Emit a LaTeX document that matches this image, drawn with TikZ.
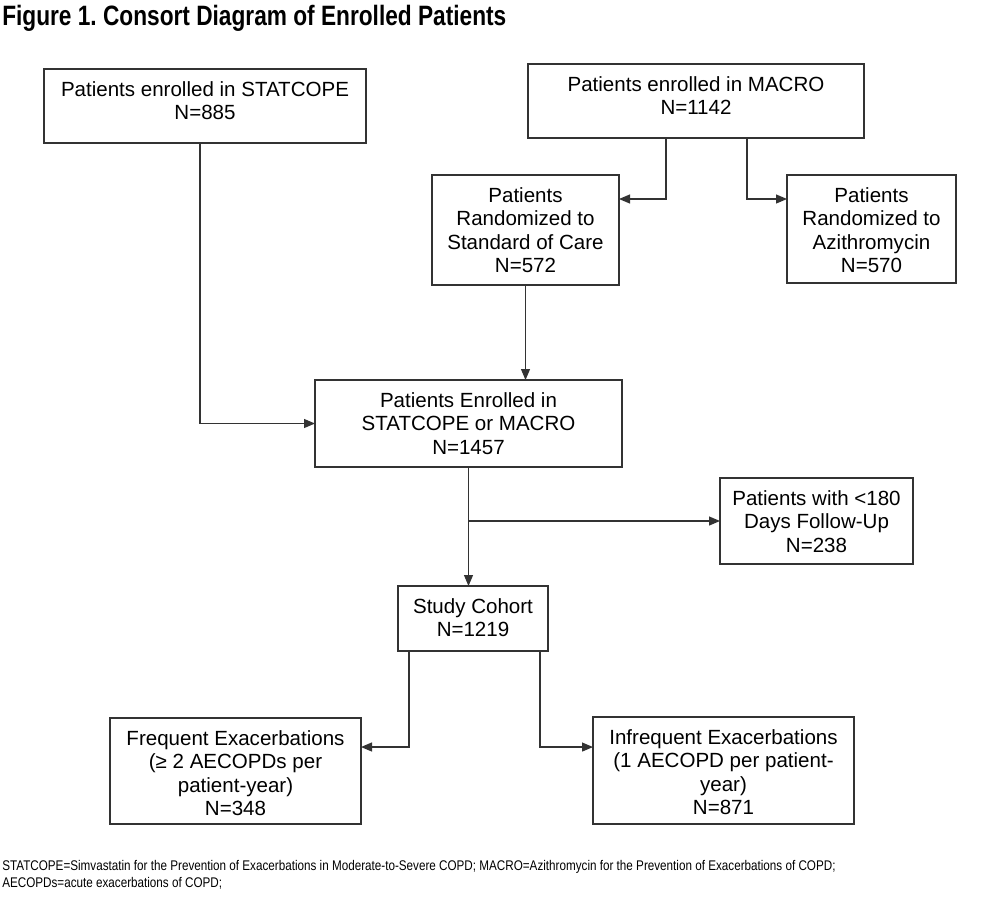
\documentclass[tikz,border=0pt]{standalone}
\usepackage{fontspec}
\setmainfont{Liberation Sans}
\usepackage{graphicx}
\usetikzlibrary{arrows.meta}
\definecolor{linecol}{HTML}{333333}
\newcommand\bt[3]{\parbox[c][#2][t]{#1}{\centering\fontsize{15.4}{17.6}\selectfont\rule{0pt}{20.5pt}#3}}
\begin{document}
\frenchspacing
\begin{tikzpicture}[x=0.75pt,y=-0.75pt,
  box/.style={draw=linecol,line width=0.9pt,inner sep=0pt,outer sep=0pt,text=black},
  arr/.style={draw=linecol,line width=0.9pt,-{Triangle[length=8.25pt,width=6.75pt]}}]
\useasboundingbox (0,0) rectangle (1000,900);
\fill[white] (0,0) rectangle (1000,900);
\node[anchor=base west,inner sep=0pt] (title) at (2,25)
  {\fontsize{21}{24}\selectfont\bfseries\resizebox{378pt}{\height}{Figure 1. Consort Diagram of Enrolled Patients}};

\node[box] (b1) at (205,106)   {\bt{241.5pt}{55.5pt}{Patients enrolled in STATCOPE\\N=885}};
\node[box] (b2) at (696,101)   {\bt{252pt}{55.5pt}{Patients enrolled in MACRO\\N=1142}};
\node[box] (b3) at (525.5,230) {\bt{140.25pt}{82.5pt}{Patients\\Randomized to\\Standard of Care\\N=572}};
\node[box] (b4) at (871.5,229) {\bt{126.75pt}{81pt}{Patients\\Randomized to\\Azithromycin\\N=570}};
\node[box] (b5) at (468.5,423.5) {\bt{230.25pt}{65.25pt}{Patients Enrolled in\\STATCOPE or MACRO\\N=1457}};
\node[box] (b6) at (816.5,521) {\bt{144.75pt}{64.5pt}{Patients with <180\\Days Follow-Up\\N=238}};
\node[box] (b7) at (473,618.5) {\bt{112.5pt}{48.75pt}{Study Cohort\\N=1219}};
\node[box] (b8) at (235.5,771) {\bt{188.25pt}{79.5pt}{Frequent Exacerbations\\(≥ 2 AECOPDs per\\patient-year)\\N=348}};
\node[box] (b9) at (723.5,770.5) {\bt{195.75pt}{80.25pt}{Infrequent Exacerbations\\(1 AECOPD per patient-\\year)\\N=871}};

\draw[arr] ([xshift=-3.75pt]b1.south) |- (b5.west);
\draw[arr] ([xshift=-22.5pt]b2.south) |- ([yshift=23.25pt]b3.east);
\draw[arr] ([xshift=38.25pt]b2.south) |- ([yshift=22.5pt]b4.west);
\draw[arr] (b3.south) -- (b3.south |- b5.north);
\draw[arr] (b5.south) -- (b5.south |- b7.north);
\coordinate (br) at (b5.south |- b6.west);
\draw[arr] (br) -- (b6.west);
\draw[arr] ([xshift=-48pt]b7.south) |- ([yshift=18pt]b8.east);
\draw[arr] ([xshift=50.25pt]b7.south) |- ([yshift=17.6pt]b9.west);

\node[anchor=base west,inner sep=0pt] (fn) at (2,870)
  {\fontsize{10.5}{12.75}\selectfont\resizebox{625pt}{\height}{\begin{tabular}[t]{@{}l@{}}STATCOPE=Simvastatin for the Prevention of Exacerbations in Moderate-to-Severe COPD; MACRO=Azithromycin for the Prevention of Exacerbations of COPD;\\AECOPDs=acute exacerbations of COPD;\end{tabular}}};
\end{tikzpicture}
\end{document}
